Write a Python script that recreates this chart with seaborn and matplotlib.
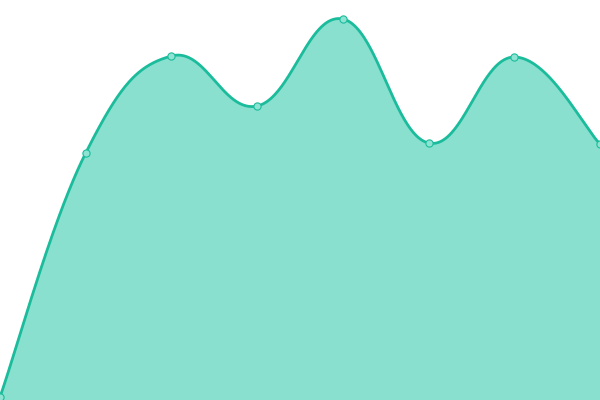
import numpy as np
import pandas as pd
import matplotlib
matplotlib.use("Agg")
import matplotlib.pyplot as plt
import seaborn as sns

categories = ["A", "B", "C", "D", "E", "F", "G", "H"]
values = [3, 247, 344, 294, 381, 257, 343, 256]

LINE = "#1abc9c"
FILL = "#89e0cf"

sns.set_theme(style="white")
fig = plt.figure(figsize=(6, 4), dpi=100)
ax = fig.add_axes([0, 0, 1, 1])
n = len(values)
ax.set_xlim(0, n - 1)
ax.set_ylim(0, 400)

# cardinal-spline smoothing (drawing interpolation only)
xs = np.arange(n, dtype=float)
ys = np.array(values, dtype=float)
P = np.column_stack([xs, ys])
k = 0.2
t = np.linspace(0, 1, 80)[:, None]
pts = []
for i in range(n - 1):
    p0 = P[i]
    p3 = P[i + 1]
    prev = P[i - 1] if i > 0 else P[i]
    nxt = P[i + 2] if i + 2 < n else P[i + 1]
    c1 = p0 + (p3 - prev) * k
    c2 = p3 - (nxt - p0) * k
    seg = (1 - t) ** 3 * p0 + 3 * (1 - t) ** 2 * t * c1 + 3 * (1 - t) * t ** 2 * c2 + t ** 3 * p3
    pts.append(seg if i == 0 else seg[1:])
pts = np.vstack(pts)
cx, cy = pts[:, 0], pts[:, 1]

df_curve = pd.DataFrame({"x": cx, "y": cy})
ax.fill_between(cx, 0, cy, color=FILL, linewidth=0, zorder=1)
sns.lineplot(data=df_curve, x="x", y="y", ax=ax, color=LINE, linewidth=2.0,
             sort=False, estimator=None, zorder=2)
df_pts = pd.DataFrame({"x": xs, "y": values})
sns.scatterplot(data=df_pts, x="x", y="y", ax=ax, s=27, color="#8fe3d2",
                edgecolor=LINE, linewidth=0.8, zorder=3)

ax.set_axis_off()
fig.savefig("out.png", dpi=100)
